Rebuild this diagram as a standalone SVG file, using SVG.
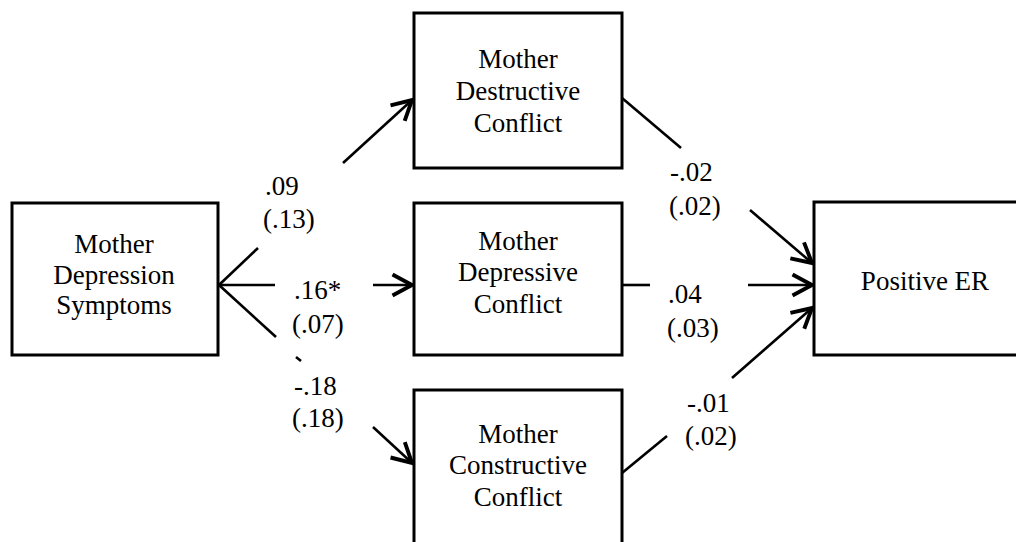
<svg xmlns="http://www.w3.org/2000/svg" width="1016" height="542" viewBox="0 0 1016 542" font-family="Liberation Serif, serif">
<defs>
<style>
.box{fill:#fff;stroke:#000;stroke-width:3}
.t{font-size:27px;fill:#000}
.c{text-anchor:middle}
.ln{fill:none;stroke:#000;stroke-width:2.6}
</style>
<marker id="ah" markerUnits="userSpaceOnUse" markerWidth="30" markerHeight="30" viewBox="-16 -10 20 20" refX="0" refY="0" orient="auto">
<path d="M-13,-7 L0,0 L-13,7" fill="none" stroke="#000" stroke-width="2.6"/>
</marker>
</defs>
<rect width="1016" height="542" fill="#fff"/>
<g id="connectors">
<path class="ln" d="M219,285 L258,248"/>
<path class="ln" d="M343,163 L412,100" marker-end="url(#ah)"/>
<path class="ln" d="M219,285 L275,285"/>
<path class="ln" d="M373,285 L412,285" marker-end="url(#ah)"/>
<path class="ln" d="M219,285 L276,337"/>
<path class="ln" d="M296,357 L301,361"/>
<path class="ln" d="M373,427 L412,463" marker-end="url(#ah)"/>
<path class="ln" d="M622,98 L681,148"/>
<path class="ln" d="M750,210 L812,263" marker-end="url(#ah)"/>
<path class="ln" d="M622,285 L650,285"/>
<path class="ln" d="M748,285 L812,285" marker-end="url(#ah)"/>
<path class="ln" d="M622,473 L667,436"/>
<path class="ln" d="M732,378 L812,308" marker-end="url(#ah)"/>
</g>
<g id="labels" style="font-family:'Liberation Serif',serif">
<text class="t" x="265" y="195">.09</text>
<text class="t" x="263" y="228">(.13)</text>
<text class="t" x="294" y="299">.16*</text>
<text class="t" x="292" y="333">(.07)</text>
<text class="t" x="294" y="395">-.18</text>
<text class="t" x="292" y="427">(.18)</text>
<text class="t" x="670" y="181">-.02</text>
<text class="t" x="669" y="215">(.02)</text>
<text class="t" x="668" y="303">.04</text>
<text class="t" x="667" y="337">(.03)</text>
<text class="t" x="687" y="412">-.01</text>
<text class="t" x="685" y="445">(.02)</text>
</g>
<g id="node-symptoms">
<rect class="box" x="12" y="203" width="206" height="152"/>
<text class="t c" x="114" y="253">Mother</text>
<text class="t c" x="114" y="284">Depression</text>
<text class="t c" x="114" y="314">Symptoms</text>
</g>
<g id="node-destructive">
<rect class="box" x="414" y="13" width="208" height="155"/>
<text class="t c" x="518" y="68">Mother</text>
<text class="t c" x="518" y="100">Destructive</text>
<text class="t c" x="518" y="132">Conflict</text>
</g>
<g id="node-depressive">
<rect class="box" x="414" y="203" width="208" height="152"/>
<text class="t c" x="518" y="250">Mother</text>
<text class="t c" x="518" y="281">Depressive</text>
<text class="t c" x="518" y="313">Conflict</text>
</g>
<g id="node-constructive">
<rect class="box" x="414" y="390" width="208" height="170"/>
<text class="t c" x="518" y="443">Mother</text>
<text class="t c" x="518" y="474">Constructive</text>
<text class="t c" x="518" y="506">Conflict</text>
</g>
<g id="node-positive">
<rect class="box" x="814" y="202" width="230" height="153"/>
<text class="t c" x="925" y="290">Positive ER</text>
</g>
</svg>
